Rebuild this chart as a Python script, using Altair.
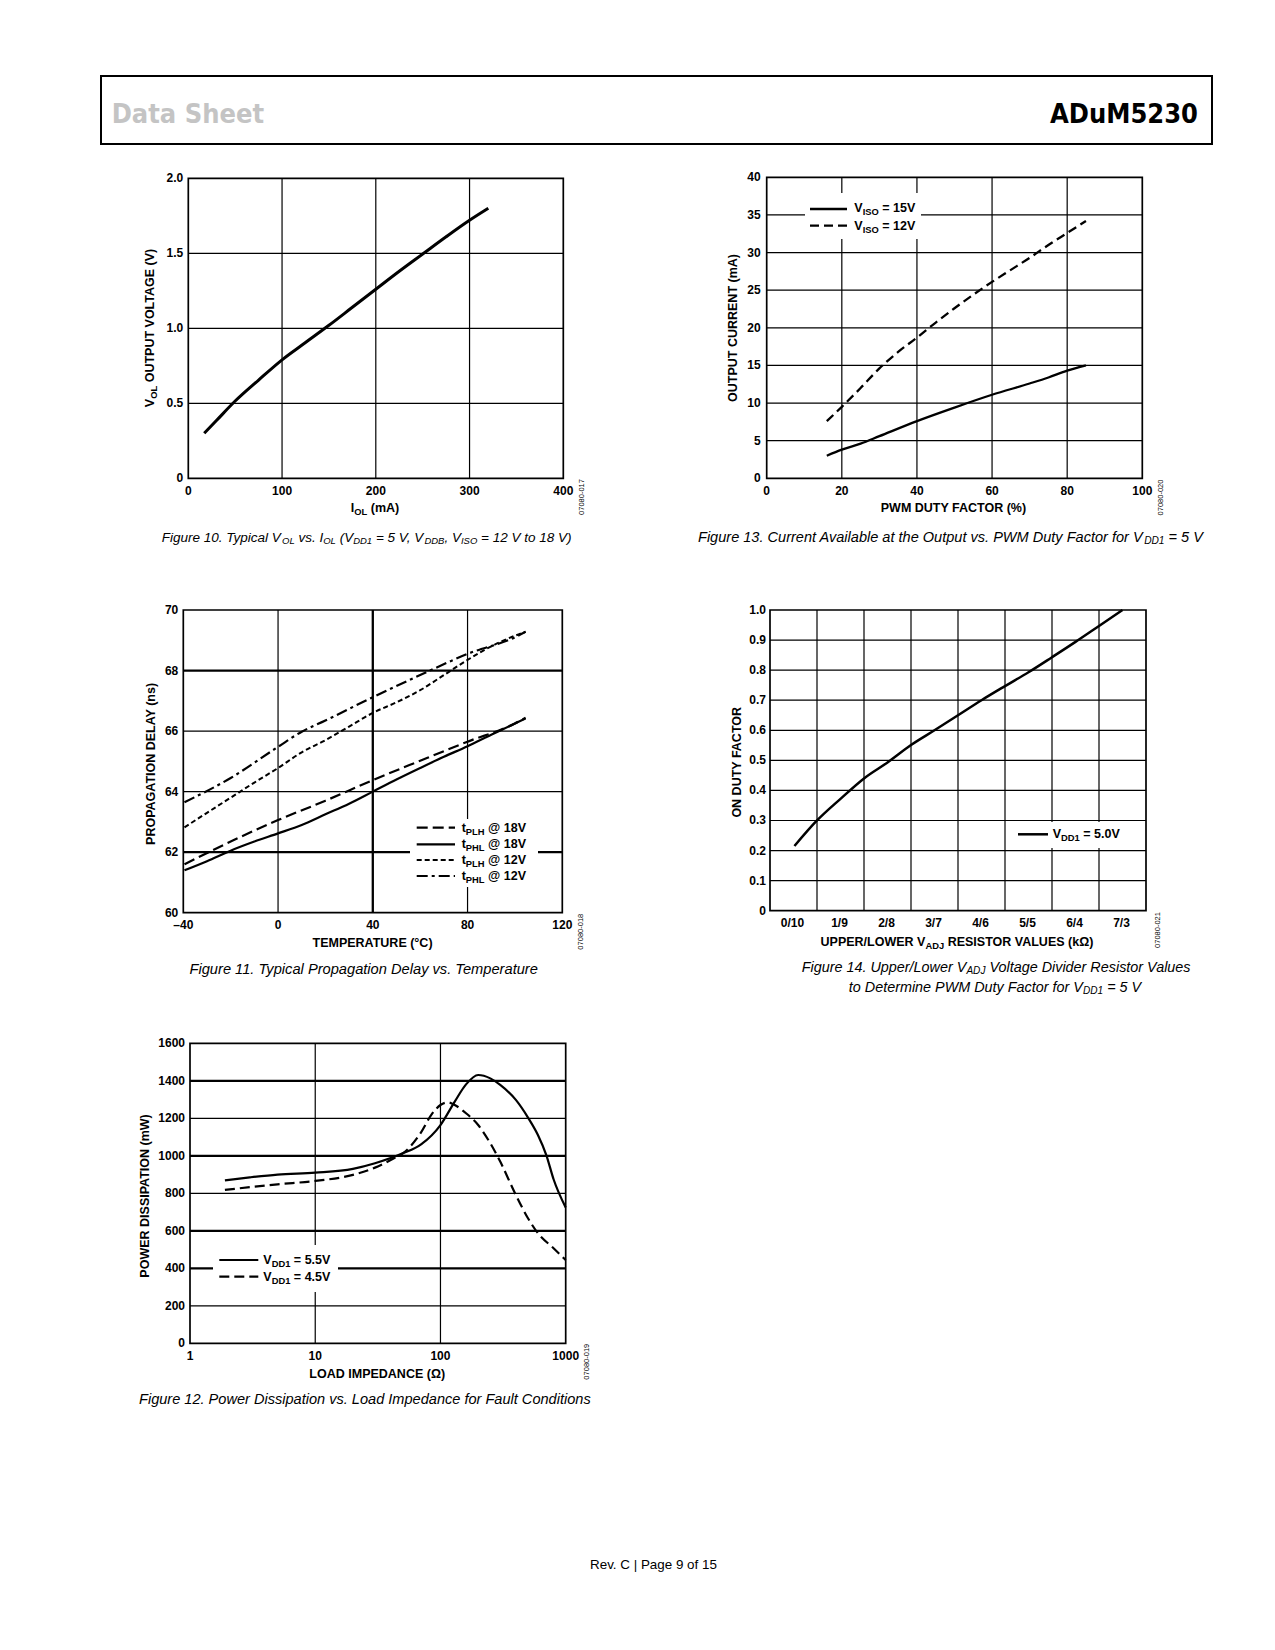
import altair as alt
import pandas as pd

# ---------------- data ----------------
# Figure 10: VOL vs IOL
f10_iol = [17, 30, 50, 75, 100, 125, 150, 175, 200, 225, 250, 275, 300, 320]
f10_vol = [0.30, 0.385, 0.515, 0.655, 0.79, 0.905, 1.02, 1.14, 1.26, 1.38, 1.495, 1.61, 1.72, 1.80]
f10_xticks = [0, 100, 200, 300, 400]
f10_yticks = [0, 0.5, 1.0, 1.5, 2.0]
f10_ylabels = ["0", "0.5", "1.0", "1.5", "2.0"]

# Figure 13: output current vs PWM duty factor
f13_duty15 = [16, 20, 25, 30, 40, 50, 60, 70, 75, 80, 85]
f13_i15 = [3.0, 3.8, 4.6, 5.6, 7.6, 9.4, 11.1, 12.6, 13.4, 14.3, 15.0]
f13_duty12 = [16, 20, 25, 30, 35, 40, 45, 50, 55, 60, 65, 70, 75, 80, 85]
f13_i12 = [7.6, 9.5, 12.0, 14.6, 16.8, 18.7, 20.7, 22.6, 24.4, 26.1, 27.7, 29.3, 31.0, 32.6, 34.2]
f13_xticks = [0, 20, 40, 60, 80, 100]
f13_yticks = [0, 5, 10, 15, 20, 25, 30, 35, 40]

# Figure 11: propagation delay vs temperature
f11_t_a = [-39.5, -30, -20, -10, 0, 10, 20, 30, 40, 50, 60, 70, 80, 90, 100, 104.5]
f11_phl18 = [61.4, 61.7, 62.05, 62.35, 62.62, 62.9, 63.25, 63.6, 64.0, 64.4, 64.78, 65.15, 65.5, 65.88, 66.25, 66.42]
f11_t_b = [-39.5, -20, 0, 20, 40, 60, 80, 100, 104.5]
f11_plh18 = [61.6, 62.35, 63.06, 63.7, 64.38, 65.02, 65.65, 66.25, 66.44]
f11_plh12 = [62.82, 63.3, 63.8, 64.3, 64.78, 65.3, 65.7, 66.15, 66.6, 66.95, 67.35, 67.85, 68.35, 68.8, 69.15, 69.28]
f11_t_c = [-39.5, -20, 0, 10, 20, 40, 60, 80, 100, 104.5]
f11_phl12 = [63.65, 64.45, 65.48, 65.98, 66.35, 67.12, 67.85, 68.55, 69.1, 69.28]
f11_xticks = [-40, 0, 40, 80, 120]
f11_xlabels = ["\u201340", "0", "40", "80", "120"]
f11_yticks = [60, 62, 64, 66, 68, 70]

# Figure 14: on duty factor vs resistor values
f14_categories = ["0/10", "1/9", "2/8", "3/7", "4/6", "5/5", "6/4", "7/3"]
f14_pos = [0.52, 1.0, 1.5, 2.0, 2.5, 3.0, 3.5, 4.0, 4.5, 5.0, 5.5, 6.0, 6.5, 7.0, 7.5]
f14_duty = [0.215, 0.30, 0.372, 0.44, 0.493, 0.551, 0.60, 0.65, 0.70, 0.747, 0.793, 0.843, 0.894, 0.947, 1.0]
f14_yticks = [0, 0.1, 0.2, 0.3, 0.4, 0.5, 0.6, 0.7, 0.8, 0.9, 1.0]
f14_ylabels = ["0", "0.1", "0.2", "0.3", "0.4", "0.5", "0.6", "0.7", "0.8", "0.9", "1.0"]

# Figure 12: power dissipation vs load impedance
f12_r55 = [1.9, 3, 5, 10, 20, 30, 50, 70, 100, 130, 160, 200, 250, 300, 400, 500, 600, 700, 800, 1000]
f12_p55 = [869, 885, 900, 910, 930, 960, 1013, 1061, 1164, 1289, 1381, 1431, 1413, 1378, 1298, 1204, 1111, 1004, 875, 724]
f12_r45 = [1.9, 5, 10, 20, 30, 45, 50, 70, 85, 100, 115, 130, 160, 200, 250, 300, 400, 500, 600, 800, 1000]
f12_p45 = [818, 848, 866, 898, 937, 996, 1013, 1125, 1221, 1271, 1285, 1271, 1227, 1164, 1067, 969, 791, 667, 587, 507, 444]
f12_xticks = [1, 10, 100, 1000]
f12_yticks = [0, 200, 400, 600, 800, 1000, 1200, 1400, 1600]

# ---------------- styling helpers ----------------
OFF = 8
W, H = 1240, 1600
FONT = "Liberation Sans, Arial, Helvetica, sans-serif"
NARROW = "Liberation Sans Narrow, Arial Narrow, DejaVu Sans Condensed, sans-serif"
ONE = pd.DataFrame({"k": [0]})


def px(v):
    return v - OFF


REG_W = {'a': 556, 'b': 556, 'c': 500, 'd': 556, 'e': 556, 'f': 278, 'g': 556, 'h': 556, 'i': 222, 'j': 222,
         'k': 500, 'l': 222, 'm': 833, 'n': 556, 'o': 556, 'p': 556, 'q': 556, 'r': 333, 's': 500, 't': 278,
         'u': 556, 'v': 500, 'w': 722, 'x': 500, 'y': 500, 'z': 500,
         'A': 667, 'B': 667, 'C': 722, 'D': 722, 'E': 667, 'F': 611, 'G': 778, 'H': 722, 'I': 278, 'J': 500,
         'K': 667, 'L': 556, 'M': 833, 'N': 722, 'O': 778, 'P': 667, 'Q': 778, 'R': 722, 'S': 667, 'T': 611,
         'U': 722, 'V': 667, 'W': 944, 'X': 667, 'Y': 667, 'Z': 611,
         ' ': 278, '.': 278, ',': 278, '(': 333, ')': 333, '=': 584, '/': 278, '-': 333, '\u2013': 556,
         '|': 260, '@': 1015, '%': 889, '\u00b0': 400, '\u03a9': 768, ':': 278}
BOLD_W = {'a': 556, 'b': 611, 'c': 556, 'd': 611, 'e': 556, 'f': 333, 'g': 611, 'h': 611, 'i': 278, 'j': 278,
          'k': 556, 'l': 278, 'm': 889, 'n': 611, 'o': 611, 'p': 611, 'q': 611, 'r': 389, 's': 556, 't': 333,
          'u': 611, 'v': 556, 'w': 778, 'x': 556, 'y': 556, 'z': 500,
          'A': 722, 'B': 722, 'C': 722, 'D': 722, 'E': 667, 'F': 611, 'G': 778, 'H': 722, 'I': 278, 'J': 556,
          'K': 722, 'L': 611, 'M': 833, 'N': 722, 'O': 778, 'P': 667, 'Q': 778, 'R': 722, 'S': 667, 'T': 611,
          'U': 722, 'V': 667, 'W': 944, 'X': 667, 'Y': 667, 'Z': 611,
          ' ': 278, '.': 278, ',': 278, '(': 333, ')': 333, '=': 584, '/': 278, '-': 333, '\u2013': 556,
          '|': 280, '@': 975, '%': 889, '\u00b0': 400, '\u03a9': 768, ':': 333}
for _d in "0123456789":
    REG_W[_d] = 556
    BOLD_W[_d] = 556


def twidth(s, tab, size):
    return sum(tab.get(c, 556) for c in s) / 1000.0 * size


def rich(segs, x, y, size, bold=True, italic=False, align="left", angle=0,
         sub_ratio=0.75, sub_shift=3.0, color="black", font=FONT, target=None):
    tab = BOLD_W if bold else REG_W

    def total(sz):
        return sum(twidth(t, tab, sz * sub_ratio if sb else sz) for t, sb in segs)

    if target is not None:
        size = size * target / total(size)
    tw = total(size)
    pos = 0.0 if align == "left" else (-tw / 2.0 if align == "center" else -tw)
    out = []
    for t, sb in segs:
        sz = size * sub_ratio if sb else size
        dy = (0.3 * size + sub_shift - 0.3 * sz) if sb else 0.0
        # SVG collapses leading blanks: advance past them instead of drawing them
        stripped = t.lstrip(" ")
        pos += twidth(t[:len(t) - len(stripped)], tab, sz)
        if stripped:
            out.append(
                alt.Chart(ONE).mark_text(
                    text=stripped, align="left", baseline="middle", dx=pos, dy=dy, angle=angle,
                    fontSize=sz, font=font, fontWeight="bold" if bold else "normal",
                    fontStyle="italic" if italic else "normal", color=color,
                ).encode(x=alt.value(px(x)), y=alt.value(px(y)))
            )
        pos += twidth(stripped, tab, sz)
    return out, size


def P(s):
    return [(s, False)]


def white_box(x0, x1, y0, y1):
    return alt.Chart(ONE).mark_rect(color="white").encode(
        x=alt.value(px(x0)), x2=alt.value(px(x1)), y=alt.value(px(y0)), y2=alt.value(px(y1)))


def sample(x0, x1, y, dash=None, w=2.2):
    kw = dict(color="black", strokeWidth=w)
    if dash:
        kw["strokeDash"] = dash
    return alt.Chart(ONE).mark_rule(**kw).encode(
        x=alt.value(px(x0)), x2=alt.value(px(x1)), y=alt.value(px(y)))


def panel(XS, YS, xdom, ydom, gx, gy, gxb, gyb, xticks, xlabels, xlab_y, yticks, ylabels, ylab_x,
          series, boxes, xlab_dx=0):
    layers = []

    def vrules(vals, w):
        df = pd.DataFrame({"x": vals, "y0": [ydom[0]] * len(vals), "y1": [ydom[1]] * len(vals)})
        return alt.Chart(df).mark_rule(color="black", strokeWidth=w).encode(
            x=alt.X("x:Q", scale=XS, axis=None), y=alt.Y("y0:Q", scale=YS, axis=None), y2="y1:Q")

    def hrules(vals, w):
        df = pd.DataFrame({"y": vals, "x0": [xdom[0]] * len(vals), "x1": [xdom[1]] * len(vals)})
        return alt.Chart(df).mark_rule(color="black", strokeWidth=w).encode(
            y=alt.Y("y:Q", scale=YS, axis=None), x=alt.X("x0:Q", scale=XS, axis=None), x2="x1:Q")

    if gx:
        layers.append(vrules(gx, 1.2))
    if gxb:
        layers.append(vrules(gxb, 2.3))
    if gy:
        layers.append(hrules(gy, 1.2))
    if gyb:
        layers.append(hrules(gyb, 2.3))
    layers += boxes
    fr = pd.DataFrame({"x0": [xdom[0]], "x1": [xdom[1]], "y0": [ydom[0]], "y1": [ydom[1]]})
    layers.append(alt.Chart(fr).mark_rect(filled=False, color="black", strokeWidth=1.7).encode(
        x=alt.X("x0:Q", scale=XS, axis=None), x2="x1:Q",
        y=alt.Y("y0:Q", scale=YS, axis=None), y2="y1:Q"))
    for xs, ys, dash, w in series:
        df = pd.DataFrame({"x": xs, "y": ys})
        kw = dict(color="black", strokeWidth=w, interpolate="monotone")
        if dash:
            kw["strokeDash"] = dash
        layers.append(alt.Chart(df).mark_line(**kw).encode(
            x=alt.X("x:Q", scale=XS, axis=None), y=alt.Y("y:Q", scale=YS, axis=None), order="x:Q"))
    xl = pd.DataFrame({"v": xticks, "lab": xlabels})
    layers.append(alt.Chart(xl).mark_text(align="center", baseline="middle", fontSize=12, font=FONT,
                                          fontWeight="bold", color="black", dx=xlab_dx).encode(
        x=alt.X("v:Q", scale=XS, axis=None), y=alt.value(px(xlab_y)), text="lab:N"))
    yl = pd.DataFrame({"v": yticks, "lab": ylabels})
    layers.append(alt.Chart(yl).mark_text(align="right", baseline="middle", fontSize=12, font=FONT,
                                          fontWeight="bold", color="black").encode(
        y=alt.Y("v:Q", scale=YS, axis=None), x=alt.value(px(ylab_x)), text="lab:N"))
    return alt.layer(*layers)


def sc(dom, r0, r1, typ="linear"):
    if typ == "log":
        return alt.Scale(type="log", domain=dom, range=[px(r0), px(r1)], nice=False)
    return alt.Scale(domain=dom, range=[px(r0), px(r1)], nice=False, zero=False)


# ---------------- panels ----------------
XA, YA = sc([0, 400], 188.3, 563.3), sc([0, 2], 478.3, 178.3)
pA = panel(XA, YA, [0, 400], [0, 2], [100, 200, 300], [0.5, 1.0, 1.5], [], [],
           f10_xticks, [str(v) for v in f10_xticks], 490.7, f10_yticks, f10_ylabels, 183.3,
           [(f10_iol, f10_vol, None, 3.0)], [])

XB, YB = sc([0, 100], 766.7, 1142.3), sc([0, 40], 478.3, 177.3)
pB = panel(XB, YB, [0, 100], [0, 40], [20, 40, 60, 80], [5, 10, 15, 20, 25, 30, 35], [], [],
           f13_xticks, [str(v) for v in f13_xticks], 490.7, f13_yticks, [str(v) for v in f13_yticks], 760.7,
           [(f13_duty15, f13_i15, None, 2.3), (f13_duty12, f13_i12, [9, 5], 2.3)],
           [white_box(805, 921, 193, 239)])

XC, YC = sc([-40, 120], 183.3, 562.3), sc([60, 70], 912.7, 610)
pC = panel(XC, YC, [-40, 120], [60, 70], [0, 80], [64, 66], [40], [62, 68],
           f11_xticks, f11_xlabels, 925, f11_yticks, [str(v) for v in f11_yticks], 178.3,
           [(f11_t_a, f11_phl18, None, 2.2), (f11_t_b, f11_plh18, [11, 5], 2.2),
            (f11_t_a, f11_plh12, [5, 3], 2.0), (f11_t_c, f11_phl12, [11, 4, 3, 4], 2.2)],
           [white_box(410, 538, 819, 887)])

XD, YD = sc([0, 8], 770, 1146), sc([0, 1], 910.7, 610)
pD = panel(XD, YD, [0, 8], [0, 1], [1, 2, 3, 4, 5, 6, 7], [0.1, 0.2, 0.3, 0.4, 0.5, 0.6, 0.7, 0.8, 0.9], [], [],
           [k + 0.5 for k in range(8)], f14_categories, 923.3, f14_yticks, f14_ylabels, 766,
           [(f14_pos, f14_duty, None, 2.5)],
           [white_box(1015, 1123, 822, 848)], xlab_dx=-1)

XE, YE = sc([1, 1000], 190, 565.7, "log"), sc([0, 1600], 1343.3, 1043.3)
pE = panel(XE, YE, [1, 1000], [0, 1600], [10, 100], [200, 800, 1200], [], [400, 600, 1000, 1400],
           f12_xticks, [str(v) for v in f12_xticks], 1356, f12_yticks, [str(v) for v in f12_yticks], 185,
           [(f12_r55, f12_p55, None, 2.2), (f12_r45, f12_p45, [10, 5], 2.2)],
           [white_box(213, 338, 1245, 1292)])

# ---------------- annotations ----------------
ann = []
# header
ann.append(alt.Chart(ONE).mark_rect(filled=False, color="black", strokeWidth=2).encode(
    x=alt.value(px(101)), x2=alt.value(px(1212)), y=alt.value(px(76)), y2=alt.value(px(144))))
ann.append(alt.Chart(ONE).mark_text(text="Data Sheet", align="left", baseline="alphabetic", fontSize=27,
                                    font=NARROW, fontWeight="bold", color="#c4c4c4").encode(
    x=alt.value(px(111.7)), y=alt.value(px(122.5))))
ann.append(alt.Chart(ONE).mark_text(text="ADuM5230", align="right", baseline="alphabetic", fontSize=27,
                                    font=NARROW, fontWeight="bold", color="black").encode(
    x=alt.value(px(1198)), y=alt.value(px(122.5))))

TS = 12.5
# axis titles
ann += rich([("V", False), ("OL", True), (" OUTPUT VOLTAGE (V)", False)], 150, 327, TS, align="center", angle=270)[0]
ann += rich([("I", False), ("OL", True), (" (mA)", False)], 375, 508, TS, align="center")[0]
ann += rich(P("OUTPUT CURRENT (mA)"), 733.3, 328, TS, align="center", angle=270)[0]
ann += rich(P("PWM DUTY FACTOR (%)"), 954, 508, TS, align="center")[0]
ann += rich(P("PROPAGATION DELAY (ns)"), 150.7, 762.3, TS, align="center", angle=270)[0]
ann += rich(P("TEMPERATURE (\u00b0C)"), 373, 942.7, TS, align="center")[0]
ann += rich(P("ON DUTY FACTOR"), 736.7, 761.7, TS, align="center", angle=270)[0]
ann += rich([("UPPER/LOWER V", False), ("ADJ", True), (" RESISTOR VALUES (k\u03a9)", False)], 957.3, 941.7, TS,
            align="center")[0]
ann += rich(P("POWER DISSIPATION (mW)"), 145, 1195, TS, align="center", angle=270)[0]
ann += rich(P("LOAD IMPEDANCE (\u03a9)"), 377, 1374.3, TS, align="center")[0]

# legends
ann.append(sample(810, 847, 209, None, 2.3))
ann.append(sample(810, 847, 225.7, [9, 5], 2.3))
ann += rich([("V", False), ("ISO", True), (" = 15V", False)], 854.3, 208.3, TS)[0]
ann += rich([("V", False), ("ISO", True), (" = 12V", False)], 854.3, 225.7, TS)[0]

leg11 = [(827.7, [11, 5], "PLH", "18V"), (844.3, None, "PHL", "18V"),
         (860.0, [5, 3], "PLH", "12V"), (876.0, [11, 4, 3, 4], "PHL", "12V")]
for yy, dash, sub, volt in leg11:
    ann.append(sample(416.7, 455, yy, dash, 2.2))
    ann += rich([("t", False), (sub, True), (" @ " + volt, False)], 461.7, yy, TS)[0]

ann.append(sample(1018, 1048, 834.3, None, 2.5))
ann += rich([("V", False), ("DD1", True), (" = 5.0V", False)], 1052.7, 834.3, TS)[0]

ann.append(sample(219.3, 258.3, 1260, None, 2.2))
ann.append(sample(219.3, 258.3, 1276.7, [10, 5], 2.2))
ann += rich([("V", False), ("DD1", True), (" = 5.5V", False)], 263.3, 1260, TS)[0]
ann += rich([("V", False), ("DD1", True), (" = 4.5V", False)], 263.3, 1276.7, TS)[0]

# figure codes
for code, cx, cy in [("07080-017", 581.7, 497), ("07080-020", 1161, 497.5), ("07080-018", 580.7, 931.7),
                     ("07080-021", 1158, 930), ("07080-019", 587, 1361.7)]:
    ann.append(alt.Chart(ONE).mark_text(text=code, align="center", baseline="middle", angle=270, fontSize=7.5,
                                        font=FONT, color="black").encode(x=alt.value(px(cx)), y=alt.value(px(cy))))

# captions
CAP = dict(bold=False, italic=True, align="center", sub_ratio=0.7, sub_shift=2.0)
ann += rich([("Figure 10. Typical V", False), ("OL", True), (" vs. I", False), ("OL", True), (" (V", False),
             ("DD1", True), (" = 5 V, V", False), ("DDB", True), (", V", False), ("ISO", True),
             (" = 12 V to 18 V)", False)], 366.7, 537.5, 13, target=410, **CAP)[0]
ann += rich([("Figure 13. Current Available at the Output vs. PWM Duty Factor for V", False), ("DD1", True),
             (" = 5 V", False)], 950.5, 537.5, 13, target=505, **CAP)[0]
ann += rich(P("Figure 11. Typical Propagation Delay vs. Temperature"), 365.5, 969.5, 13, target=352, **CAP)[0]
l1, s14 = rich([("Figure 14. Upper/Lower V", False), ("ADJ", True), (" Voltage Divider Resistor Values", False)],
               996.7, 968, 13, target=390, **CAP)
ann += l1
ann += rich([("to Determine PWM Duty Factor for V", False), ("DD1", True), (" = 5 V", False)],
            995, 988, s14, **CAP)[0]
ann += rich(P("Figure 12. Power Dissipation vs. Load Impedance for Fault Conditions"), 365, 1399.5, 13,
            target=452, **CAP)[0]
ann += rich(P("Rev. C | Page 9 of 15"), 654, 1565, 13, bold=False, align="center", target=128)[0]

chart = alt.layer(pA, pB, pC, pD, pE, *ann).resolve_scale(x="independent", y="independent").properties(
    width=W, height=H, autosize=alt.AutoSizeParams(type="none"), padding=0
).configure_view(stroke=None)

chart.save("out.html", embed_options={"renderer": "svg", "actions": False})
